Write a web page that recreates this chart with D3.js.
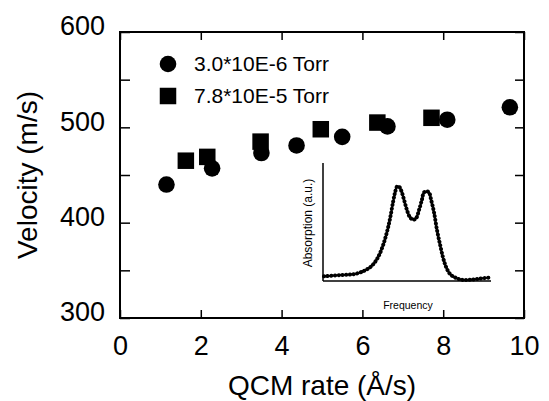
<!DOCTYPE html>
<html>
<head>
<meta charset="utf-8">
<script src="https://cdn.jsdelivr.net/npm/d3@7"></script>
<style>
  body { margin: 0; background: #fff; }
  svg text { font-family: "Liberation Sans", Arial, sans-serif; fill: #000; }
</style>
</head>
<body>
<div id="chart"></div>
<script>
// main series: QCM rate (Å/s) vs velocity (m/s)
const lowRate = [1.15, 2.28, 3.5, 4.37, 5.5, 6.62, 8.1, 9.65];
const lowVel = [440, 457, 473, 481, 490, 501, 508, 521];
const highRate = [1.63, 2.16, 3.48, 4.97, 6.37, 7.71];
const highVel = [465, 469, 485, 498, 505, 510];
const legendLabels = ['3.0*10E-6 Torr', '7.8*10E-5 Torr'];

const xTicks = [0, 2, 4, 6, 8, 10];
const yTicks = [300, 350, 400, 450, 500, 550, 600];

// inset spectrum (arbitrary units)
const insetFreq = [0, 9.6, 18.7, 24.7, 28.9, 32.5, 35.5, 38, 39.8, 41.6, 42.8, 44, 45.2, 46.4, 48.2, 50,
  51.8, 53.6, 55.4, 57.2, 59, 60.2, 62, 63.3, 64.5, 66.3, 68.1, 69.9, 71.7, 73.5, 75.9, 78.9, 83.1, 88, 94, 100];
const insetAbs = [0.04, 0.05, 0.06, 0.09, 0.13, 0.2, 0.3, 0.42, 0.53, 0.67, 0.75, 0.8, 0.8, 0.77, 0.69, 0.6,
  0.54, 0.52, 0.53, 0.6, 0.69, 0.75, 0.76, 0.75, 0.69, 0.58, 0.43, 0.31, 0.2, 0.12, 0.06, 0.03, 0.01, 0.01, 0.02, 0.03];

const width = 549, height = 401;
const margin = { top: 32, right: 25, bottom: 83, left: 120 };

const svg = d3.select('#chart').append('svg')
  .attr('width', width)
  .attr('height', height);

const x = d3.scaleLinear().domain([0, 10]).range([margin.left, width - margin.right]);
const y = d3.scaleLinear().domain([300, 600]).range([height - margin.bottom, margin.top]);

// axes (ticks inside the frame)
const xAxis = svg.append('g')
  .attr('transform', `translate(0,${y(300)})`)
  .call(d3.axisBottom(x).tickValues(xTicks).tickSize(-8).tickPadding(18));
const xTop = svg.append('g')
  .attr('transform', `translate(0,${y(600)})`)
  .call(d3.axisTop(x).tickValues(xTicks).tickSize(-8).tickFormat(''));
const yAxis = svg.append('g')
  .attr('transform', `translate(${x(0)},0)`)
  .call(d3.axisLeft(y).tickValues(yTicks).tickSize(-10).tickPadding(15)
    .tickFormat(d => d % 100 === 0 ? d : ''));
const yRight = svg.append('g')
  .attr('transform', `translate(${x(10)},0)`)
  .call(d3.axisRight(y).tickValues(yTicks).tickSize(-9).tickFormat(''));

[xAxis, xTop, yAxis, yRight].forEach(g => {
  g.select('.domain').remove();
  g.selectAll('line').attr('stroke', '#000').attr('stroke-width', 1.5);
  g.selectAll('text').attr('font-size', 27).attr('font-family', '"Liberation Sans", Arial, sans-serif');
});
yAxis.selectAll('text').attr('dy', '0.1em');

// frame
svg.append('rect')
  .attr('x', x(0))
  .attr('y', y(600))
  .attr('width', x(10) - x(0))
  .attr('height', y(300) - y(600))
  .attr('fill', 'none')
  .attr('stroke', '#000')
  .attr('stroke-width', 2);

// axis titles
svg.append('text')
  .attr('x', (x(0) + x(10)) / 2)
  .attr('y', 395)
  .attr('text-anchor', 'middle')
  .attr('font-size', 28)
  .text('QCM rate (Å/s)');

svg.append('text')
  .attr('transform', `translate(37,${(y(300) + y(600)) / 2}) rotate(-90)`)
  .attr('text-anchor', 'middle')
  .attr('font-size', 28)
  .text('Velocity (m/s)');

// data markers
svg.append('g').selectAll('circle')
  .data(lowRate.map((r, i) => [r, lowVel[i]]))
  .join('circle')
  .attr('cx', d => x(d[0]))
  .attr('cy', d => y(d[1]))
  .attr('r', 8.3)
  .attr('fill', '#000');

const sq = 16.5;
svg.append('g').selectAll('rect')
  .data(highRate.map((r, i) => [r, highVel[i]]))
  .join('rect')
  .attr('x', d => x(d[0]) - sq / 2)
  .attr('y', d => y(d[1]) - sq / 2)
  .attr('width', sq)
  .attr('height', sq)
  .attr('fill', '#000');

// legend
const legend = svg.append('g');
legend.append('circle').attr('cx', 168).attr('cy', 64).attr('r', 8.3).attr('fill', '#000');
legend.append('rect').attr('x', 168 - sq / 2).attr('y', 96 - sq / 2)
  .attr('width', sq).attr('height', sq).attr('fill', '#000');
legend.selectAll('text')
  .data(legendLabels)
  .join('text')
  .attr('x', 194)
  .attr('y', (d, i) => 71 + i * 32)
  .attr('font-size', 21)
  .text(d => d);

// inset
const ix = d3.scaleLinear().domain([0, 100]).range([324, 490]);
const iy = d3.scaleLinear().domain([0, 1]).range([281, 163]);

svg.append('line')
  .attr('x1', ix(0) - 1).attr('x2', ix(0) - 1)
  .attr('y1', iy(1)).attr('y2', iy(0))
  .attr('stroke', '#000').attr('stroke-width', 1.5);
svg.append('line')
  .attr('x1', ix(0) - 1).attr('x2', ix(100) + 1)
  .attr('y1', iy(0)).attr('y2', iy(0))
  .attr('stroke', '#000').attr('stroke-width', 1.5);

const spectrum = insetFreq.map((f, i) => [f, insetAbs[i]]);
const line = d3.line()
  .x(d => ix(d[0]))
  .y(d => iy(d[1]))
  .curve(d3.curveCatmullRom);

svg.append('path')
  .attr('d', line(spectrum))
  .attr('fill', 'none')
  .attr('stroke', '#000')
  .attr('stroke-width', 1.8);
svg.append('path')
  .attr('d', line(spectrum))
  .attr('fill', 'none')
  .attr('stroke', '#000')
  .attr('stroke-width', 4)
  .attr('stroke-linecap', 'round')
  .attr('stroke-dasharray', '0.1 3.6');

svg.append('text')
  .attr('x', 408)
  .attr('y', 309)
  .attr('text-anchor', 'middle')
  .attr('font-size', 10.5)
  .text('Frequency');

svg.append('text')
  .attr('transform', `translate(312,223) rotate(-90)`)
  .attr('text-anchor', 'middle')
  .attr('font-size', 12)
  .text('Absorption (a.u.)');
</script>
</body>
</html>
